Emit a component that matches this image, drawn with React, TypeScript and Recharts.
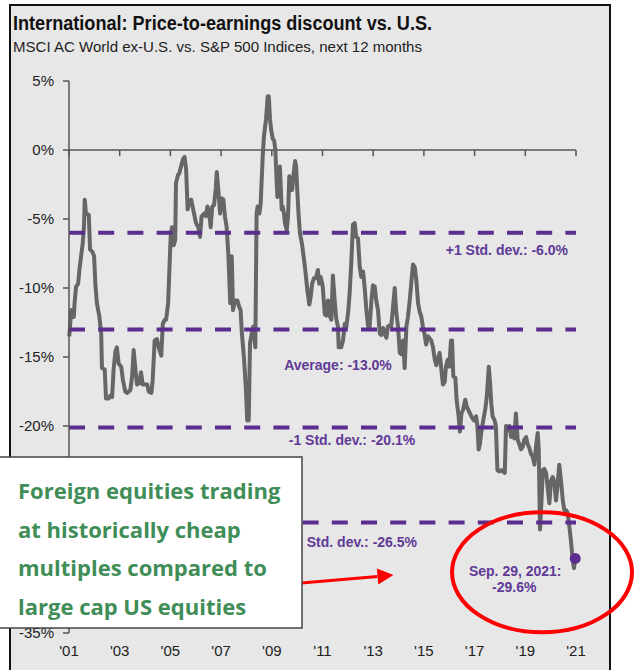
import React from "react";
import { LineChart, Line, XAxis, YAxis, ReferenceLine, ReferenceDot } from "recharts";

const title = "International: Price-to-earnings discount vs. U.S.";
const subtitle = "MSCI AC World ex-U.S. vs. S&P 500 Indices, next 12 months";

// fractional years
const dates = [
  2001.01, 2001.09, 2001.19, 2001.22, 2001.28, 2001.36, 2001.41, 2001.49, 2001.54, 2001.59, 2001.62, 2001.67, 2001.78, 2001.83, 2001.93, 2001.99,
  2002.04, 2002.1, 2002.2, 2002.27, 2002.3, 2002.41, 2002.46, 2002.57, 2002.63, 2002.7, 2002.76, 2002.83, 2002.89, 2002.96,
  2003.06, 2003.13, 2003.22, 2003.29, 2003.42, 2003.49, 2003.55, 2003.62, 2003.68, 2003.77, 2003.84, 2003.91,
  2004.01, 2004.09, 2004.14, 2004.25, 2004.3, 2004.38, 2004.47, 2004.54, 2004.64, 2004.7, 2004.78, 2004.83, 2004.91, 2004.96,
  2005.01, 2005.06, 2005.13, 2005.19, 2005.22, 2005.3, 2005.35, 2005.42, 2005.49, 2005.56, 2005.62, 2005.68, 2005.75, 2005.82,
  2006.01, 2006.1, 2006.17, 2006.23, 2006.33, 2006.4, 2006.46, 2006.53, 2006.59, 2006.65, 2006.72, 2006.79, 2006.83, 2006.89, 2006.96,
  2007.02, 2007.09, 2007.15, 2007.22, 2007.29, 2007.36, 2007.42, 2007.47, 2007.55, 2007.64, 2007.72, 2007.77, 2007.82, 2007.9, 2007.98,
  2008.03, 2008.09, 2008.14, 2008.21, 2008.27, 2008.35, 2008.4, 2008.44, 2008.51, 2008.56, 2008.64, 2008.69, 2008.77, 2008.84, 2008.88, 2008.93, 2008.98,
  2009.04, 2009.09, 2009.14, 2009.19, 2009.22, 2009.27, 2009.32, 2009.39, 2009.43, 2009.48, 2009.52, 2009.59, 2009.64, 2009.69, 2009.75, 2009.8, 2009.85, 2009.92, 2009.96,
  2010.01, 2010.06, 2010.11, 2010.19, 2010.24, 2010.32, 2010.4, 2010.48, 2010.53, 2010.59, 2010.66, 2010.74, 2010.82, 2010.87, 2010.93,
  2011.01, 2011.09, 2011.15, 2011.22, 2011.28, 2011.35, 2011.41, 2011.48, 2011.54, 2011.61, 2011.64, 2011.74, 2011.81, 2011.88, 2011.94,
  2012.01, 2012.07, 2012.14, 2012.2, 2012.27, 2012.33, 2012.4, 2012.47, 2012.53, 2012.6, 2012.67, 2012.73, 2012.8, 2012.86, 2012.93, 2012.99,
  2013.06, 2013.12, 2013.19, 2013.26, 2013.32, 2013.39, 2013.45, 2013.52, 2013.58, 2013.65, 2013.71, 2013.78, 2013.85, 2013.91, 2013.98,
  2014.05, 2014.11, 2014.18, 2014.24, 2014.31, 2014.37, 2014.44, 2014.5, 2014.57, 2014.64, 2014.7, 2014.77, 2014.83, 2014.9, 2014.96,
  2015.03, 2015.09, 2015.16, 2015.29, 2015.36, 2015.43, 2015.49, 2015.56, 2015.62, 2015.69, 2015.75, 2015.82, 2015.87, 2015.94,
  2016.0, 2016.07, 2016.11, 2016.16, 2016.24, 2016.29, 2016.37, 2016.42, 2016.48, 2016.55, 2016.63, 2016.69, 2016.77, 2016.82, 2016.9, 2016.98,
  2017.06, 2017.11, 2017.16, 2017.21, 2017.26, 2017.34, 2017.42, 2017.48, 2017.56, 2017.61, 2017.66, 2017.71, 2017.79, 2017.84, 2017.9, 2017.97,
  2018.05, 2018.13, 2018.19, 2018.24, 2018.32, 2018.37, 2018.44, 2018.5, 2018.57, 2018.63, 2018.7, 2018.76, 2018.83, 2018.9, 2018.96,
  2019.03, 2019.09, 2019.16, 2019.22, 2019.29, 2019.36, 2019.42, 2019.49, 2019.53, 2019.58, 2019.64, 2019.69, 2019.75, 2019.82, 2019.88, 2019.95,
  2020.01, 2020.08, 2020.14, 2020.21, 2020.28, 2020.34, 2020.41, 2020.48, 2020.54, 2020.61, 2020.67, 2020.74, 2020.8, 2020.87, 2020.92, 2020.97,
];

// P/E discount, %
const discount = [
  -13.5, -11.6, -12.1, -11.1, -9.9, -9.7, -8.7, -7.5, -6.8, -5.6, -3.6, -4.6, -4.7, -7.2, -7.4, -7.7,
  -9.7, -11.1, -12.1, -13.3, -15.8, -15.9, -18.0, -18.0, -17.8, -17.9, -15.9, -14.6, -14.3, -15.5,
  -15.7, -16.7, -17.5, -17.6, -17.4, -16.4, -14.5, -15.9, -17.0, -16.9, -16.1, -17.0,
  -17.0, -17.0, -17.5, -17.6, -16.7, -13.8, -13.7, -14.3, -14.9, -12.6, -12.3, -12.3, -11.1, -8.7,
  -6.3, -5.6, -6.9, -6.5, -2.4, -1.8, -1.7, -1.2, -0.7, -0.5, -1.4, -4.3, -3.7, -3.6,
  -5.3, -5.6, -6.3, -4.8, -4.6, -4.8, -4.1, -4.6, -5.6, -4.1, -4.0, -2.8, -1.6, -2.9, -4.6,
  -3.5, -3.6, -4.8, -5.6, -7.7, -11.1, -7.7, -11.6, -10.9, -10.9, -11.4, -11.6, -13.3, -15.0, -17.4,
  -19.6, -19.6, -14.0, -13.3, -12.8, -14.3, -4.6, -4.1, -4.6, -3.9, -0.5, 1.0, 2.2, 3.9, 3.9, 2.2, 1.4,
  0.8, 0.7, 0.0, -2.2, -3.4, -1.4, -1.2, -4.3, -4.1, -4.6, -5.3, -5.8, -4.8, -1.9, -2.2, -2.9, -1.9, -0.8, -1.2,
  -3.1, -4.8, -6.0, -6.8, -7.5, -8.7, -10.1, -11.2, -10.7, -9.7, -9.3, -9.3, -8.7, -9.7, -9.2,
  -9.9, -11.9, -12.0, -10.9, -12.0, -12.3, -9.1, -10.9, -12.2, -12.8, -14.3, -14.3, -13.8, -12.6, -12.8,
  -11.8, -10.4, -8.0, -5.4, -5.3, -6.3, -6.4, -8.5, -9.2, -8.8, -10.1, -11.6, -12.8, -12.8, -10.9, -9.8,
  -9.9, -10.9, -11.6, -13.3, -13.4, -12.9, -13.3, -13.6, -12.8, -12.7, -12.8, -11.4, -10.0, -11.8, -12.8,
  -14.7, -14.8, -13.8, -15.8, -12.8, -12.1, -10.9, -9.7, -8.3, -8.5, -9.4, -11.1, -11.7, -12.1, -12.8,
  -13.4, -14.1, -13.5, -13.8, -14.3, -15.2, -15.6, -15.1, -14.7, -15.9, -17.0, -16.8, -15.7, -15.2,
  -15.7, -13.8, -13.8, -16.4, -16.5, -18.1, -19.3, -20.4, -19.1, -18.8, -18.1, -18.6, -18.9, -19.1, -19.4, -19.6,
  -19.3, -20.0, -21.7, -21.3, -20.5, -19.6, -18.8, -17.9, -15.7, -16.9, -18.4, -19.3, -19.6, -20.0, -23.2, -23.3,
  -23.2, -23.3, -23.4, -20.0, -20.3, -20.0, -20.8, -20.4, -20.9, -19.1, -21.0, -21.3, -21.7, -21.5, -21.0,
  -20.8, -21.3, -21.6, -22.0, -22.2, -22.8, -21.5, -20.5, -21.7, -27.5, -25.4, -23.2, -23.1, -23.4, -24.4, -25.6,
  -24.0, -23.7, -24.0, -25.4, -24.1, -22.8, -24.0, -25.4, -26.1, -26.1, -26.3, -27.3, -28.3, -29.7, -30.3, -29.6,
];

const yTicks = [5, 0, -5, -10, -15, -20, -25, -30, -35];
// -25% and -30% sit behind the callout box in the source
const hiddenYTicks = [-25, -30];
const xTicks = [2001, 2003, 2005, 2007, 2009, 2011, 2013, 2015, 2017, 2019, 2021];
const xTickLabels = ["'01", "'03", "'05", "'07", "'09", "'11", "'13", "'15", "'17", "'19", "'21"];

// dashed bands: +1 sd, average, -1 sd, -2 sd (last one sits a little below its label value in the source)
const levelValues = [-6.0, -13.0, -20.1, -27.0];
const levelLabels = ["+1 Std. dev.: -6.0%", "Average: -13.0%", "-1 Std. dev.: -20.1%", "-2 Std. dev.: -26.5%"];

const latestDate = 2020.97;
const latestValue = -29.6;
const latestLabel = ["Sep. 29, 2021:", "-29.6%"];

const calloutLines = ["Foreign equities trading", "at historically cheap", "multiples compared to", "large cap US equities"];

// annotation anchors in data units
const ringCenter = { x: 2019.66, y: -30.6 };
const arrowFrom = { x: 2010.05, y: -31.4 };
const arrowTo = { x: 2013.8, y: -30.8 };

const data = dates.map((d, i) => ({ date: d, value: discount[i] }));

const FONT = "'Liberation Sans', Arial, sans-serif";
const PURPLE = "#5b2d8e";
const PURPLE_TEXT = "#603a96";
const GREEN = "#3f8d57";
const RED = "#ff0000";

const labelPos = [
  { anchor: "end", dx: 499, dy: 22 },
  { anchor: "middle", dx: 269, dy: 41 },
  { anchor: "middle", dx: 283, dy: 18 },
  { anchor: "end", dx: 348, dy: 24 },
];

function LevelLabel(props: any) {
  const { viewBox, text, anchor, dx, dy } = props;
  if (!viewBox) return null;
  return (
    <text x={viewBox.x + dx} y={viewBox.y + dy} textAnchor={anchor} fill={PURPLE_TEXT}
      fontSize={14} fontWeight={700} fontFamily={FONT}>
      {text}
    </text>
  );
}

function LatestLabel(props: any) {
  const { viewBox } = props;
  if (!viewBox) return null;
  const cx = viewBox.x + viewBox.width / 2;
  const cy = viewBox.y + viewBox.height / 2;
  return (
    <g fill={PURPLE_TEXT} fontSize={14} fontWeight={700} fontFamily={FONT} textAnchor="middle">
      <text x={cx - 60} y={cy + 18}>{latestLabel[0]}</text>
      <text x={cx - 61} y={cy + 34}>{latestLabel[1]}</text>
    </g>
  );
}

const Ring = (p: any) => (
  <ellipse cx={p.cx} cy={p.cy} rx={90} ry={60} fill="none" stroke={RED} strokeWidth={4} />
);

const Arrow = (p: any) => {
  const { x1, y1, x2, y2 } = p;
  const a = Math.atan2(y2 - y1, x2 - x1);
  const len = 16;
  const half = 8;
  const bx = x2 - len * Math.cos(a);
  const by = y2 - len * Math.sin(a);
  const nx = -Math.sin(a) * half;
  const ny = Math.cos(a) * half;
  return (
    <g>
      <line x1={x1} y1={y1} x2={bx} y2={by} stroke={RED} strokeWidth={3} />
      <polygon points={`${x2},${y2} ${bx + nx},${by + ny} ${bx - nx},${by - ny}`} fill={RED} />
    </g>
  );
};

export default function App() {
  return (
    <div style={{ position: "absolute", left: 0, top: 0, width: 637, height: 670, overflow: "hidden", background: "#fff" }}>
      <div style={{ position: "absolute", left: 9, top: 4, width: 598, height: 700, border: "2px solid #111", background: "#e7e7e7" }} />

      <svg width={637} height={60} style={{ position: "absolute", left: 0, top: 0 }}>
        <text x={13} y={30} fontFamily={FONT} fontWeight={700} fontSize={19.5} fill="#111"
          textLength={419} lengthAdjust="spacingAndGlyphs">{title}</text>
        <text x={13} y={52} fontFamily={FONT} fontSize={15} fill="#222"
          textLength={409} lengthAdjust="spacingAndGlyphs">{subtitle}</text>
      </svg>

      <div style={{ position: "absolute", left: 0, top: 0 }}>
        <LineChart width={637} height={670} data={data} margin={{ top: 81, right: 61, bottom: 0, left: 0 }}>
          <XAxis dataKey="date" type="number" domain={[2001, 2021]} ticks={xTicks} interval={0}
            tickFormatter={(t: number) => xTickLabels[xTicks.indexOf(t)]}
            axisLine={false} tickLine={false} tickSize={0} tickMargin={12} height={37}
            tick={{ fill: "#222", fontSize: 15, fontFamily: FONT }} />
          <YAxis type="number" domain={[-35, 5]} ticks={yTicks} interval={0} width={69}
            tickFormatter={(v: number) => (hiddenYTicks.includes(v) ? "" : `${v}%`)}
            axisLine={{ stroke: "#555", strokeWidth: 1.5 }} tickLine={{ stroke: "#555", strokeWidth: 1.5 }}
            tickSize={6} tickMargin={9}
            tick={{ fill: "#222", fontSize: 15, fontFamily: FONT }} />
          <ReferenceLine y={0} stroke="#555" strokeWidth={1.5} />
          {xTicks.map((t) => (
            <ReferenceLine key={t} segment={[{ x: t, y: 0 }, { x: t, y: -0.45 }]} stroke="#555" strokeWidth={1.5} />
          ))}
          <Line type="linear" dataKey="value" stroke="#666" strokeWidth={4} dot={false}
            strokeLinejoin="round" isAnimationActive={false} />
          {levelValues.map((v, i) => (
            <ReferenceLine key={v} y={v} stroke={PURPLE} strokeWidth={4} strokeDasharray="16 13.2"
              label={<LevelLabel text={levelLabels[i]} anchor={labelPos[i].anchor} dx={labelPos[i].dx} dy={labelPos[i].dy} />} />
          ))}
          <ReferenceDot x={latestDate} y={latestValue} r={5.5} fill={PURPLE} stroke="none" label={<LatestLabel />} />
          <ReferenceDot x={ringCenter.x} y={ringCenter.y} r={1} shape={Ring} />
          <ReferenceLine segment={[arrowFrom, arrowTo]} shape={Arrow} />
        </LineChart>
      </div>

      <svg width={310} height={180} style={{ position: "absolute", left: 0, top: 450 }}>
        <rect x={-2} y={7} width={304} height={171} fill="#fff" stroke="#444" strokeWidth={1.5} />
        {calloutLines.map((line, i) => (
          <text key={line} x={18} y={49 + i * 38.5} fill={GREEN} fontFamily="'Open Sans', Lato, sans-serif"
            fontWeight={700} fontSize={22}>{line}</text>
        ))}
      </svg>
    </div>
  );
}
